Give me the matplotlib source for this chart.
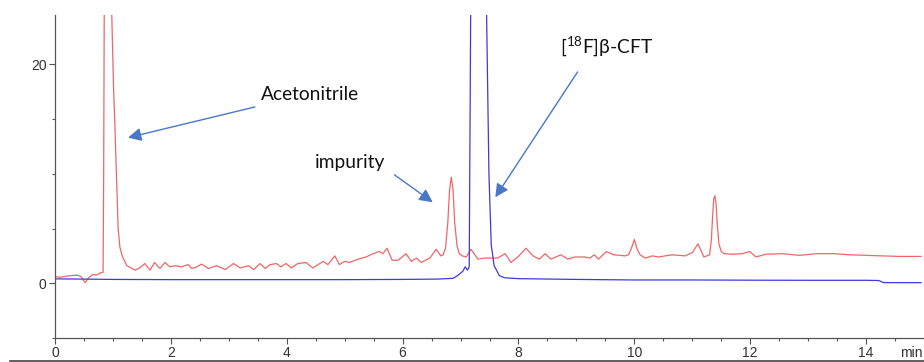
import numpy as np
import matplotlib
matplotlib.use('Agg')
import matplotlib.pyplot as plt
from matplotlib.lines import Line2D
from matplotlib.ticker import MultipleLocator

# ---------- datos leídos del cromatograma ----------
# traza roja
red_t = [0.00, 0.10, 0.20, 0.30, 0.38, 0.45, 0.52, 0.58, 0.65, 0.72, 0.78, 0.83,
         0.84, 0.86, 0.90, 0.95, 0.98, 1.01, 1.03, 1.06, 1.09, 1.12, 1.16, 1.24,
         1.38, 1.46, 1.55, 1.64, 1.72, 1.81, 1.90, 1.98, 2.07, 2.18, 2.30, 2.36,
         2.45, 2.53, 2.65, 2.79, 2.94, 3.08, 3.20, 3.34, 3.43, 3.54, 3.63, 3.71,
         3.82, 3.90, 3.99, 4.08, 4.19, 4.33, 4.45, 4.63, 4.71, 4.83, 4.91, 5.00,
         5.08, 5.23, 5.37, 5.49, 5.60, 5.66, 5.73, 5.82, 5.92, 6.06, 6.15, 6.24,
         6.32, 6.47, 6.58, 6.66, 6.70, 6.74, 6.78, 6.81, 6.84, 6.87, 6.90, 6.94,
         6.98, 7.03, 7.10, 7.18, 7.30, 7.41, 7.52, 7.64, 7.77, 7.87, 7.99, 8.13,
         8.25, 8.36, 8.46, 8.56, 8.73, 8.85, 8.97, 9.14, 9.23, 9.31, 9.38, 9.52,
         9.64, 9.84, 9.90, 9.95, 10.00, 10.05, 10.10, 10.19, 10.31, 10.42, 10.65,
         10.77, 10.88, 11.00, 11.05, 11.10, 11.15, 11.20, 11.25, 11.30, 11.33,
         11.35, 11.37, 11.39, 11.41, 11.43, 11.46, 11.50, 11.55, 11.70, 11.87,
         11.99, 12.10, 12.27, 12.56, 12.85, 13.14, 13.45, 13.71, 14.00, 14.28,
         14.57, 14.95]
red_y = [0.60, 0.55, 0.65, 0.70, 0.75, 0.60, 0.05, 0.50, 0.80, 0.75, 0.95, 1.00,
         10.0, 40.0, 60.0, 40.0, 24.5, 18.0, 15.0, 10.0, 5.0, 3.3, 2.5, 1.6,
         1.2, 1.4, 1.8, 1.2, 1.9, 1.35, 1.9, 1.5, 1.6, 1.5, 1.7, 1.35,
         1.5, 1.75, 1.35, 1.6, 1.25, 1.8, 1.4, 1.6, 1.25, 1.8, 1.35, 1.7,
         1.8, 1.5, 1.8, 1.4, 1.8, 1.9, 1.4, 2.0, 1.7, 2.5, 1.7, 2.0,
         1.9, 2.2, 2.4, 2.7, 2.9, 2.7, 3.2, 2.1, 2.1, 2.7, 2.0, 2.3,
         1.9, 2.3, 3.1, 2.5, 2.6, 3.2, 5.5, 8.5, 9.7, 8.6, 5.5, 3.4,
         2.7, 2.5, 2.4, 3.1, 2.2, 2.3, 2.3, 2.3, 2.7, 1.9, 2.4, 3.2,
         2.5, 2.2, 2.7, 2.2, 2.6, 2.2, 2.4, 2.4, 2.3, 2.6, 2.2, 2.9,
         2.6, 2.5, 2.6, 3.2, 4.0, 3.1, 2.6, 2.3, 2.5, 2.4, 2.6,
         2.55, 2.5, 2.8, 3.2, 3.6, 3.0, 2.4, 2.5, 2.6, 4.0,
         6.0, 7.7, 8.0, 7.3, 5.5, 3.6, 2.9, 2.7, 2.65, 2.7,
         2.9, 2.4, 2.65, 2.7, 2.55, 2.7, 2.7, 2.6, 2.55, 2.5,
         2.45, 2.45]

# traza azul
blue_t = [0.00, 0.50, 1.00, 2.00, 3.00, 4.00, 5.00, 6.00, 6.60, 6.87, 6.95, 7.04,
          7.08, 7.12, 7.15, 7.17, 7.20, 7.30, 7.38, 7.45, 7.49, 7.53, 7.58, 7.67,
          7.76, 8.00, 9.00, 10.00, 11.00, 12.00, 13.00, 14.00, 14.22, 14.30, 14.95]
blue_y = [0.40, 0.38, 0.35, 0.33, 0.33, 0.33, 0.33, 0.35, 0.38, 0.45, 0.70, 1.10,
          1.50, 1.20, 1.50, 20.0, 50.0, 60.0, 40.0, 24.5, 10.0, 3.5, 1.6, 0.70,
          0.50, 0.42, 0.35, 0.30, 0.30, 0.28, 0.27, 0.27, 0.25, 0.06, 0.05]

# anotaciones: texto, posición del texto, cola y punta de la flecha
labels = ['Acetonitrile', 'impurity', r'[$\mathregular{^{18}}$F]β-CFT']
label_xy = [(4.40, 17.2), (5.10, 11.0), (9.52, 21.7)]
arrow_tail = [(3.45, 16.1), (5.86, 9.9), (9.02, 19.3)]
arrow_head = [(1.26, 13.3), (6.52, 7.4), (7.60, 7.85)]

xticks = [0, 2, 4, 6, 8, 10, 12, 14]
yticks = [0, 20]

# ---------- figura ----------
fig = plt.figure(figsize=(9.24, 3.62), dpi=100)
ax = fig.add_axes([55 / 924, 1 - 338 / 362, 1 - 55 / 924, (338 - 15) / 362])

ax.plot(red_t, red_y, color='#f06666', lw=0.9)
ax.plot(blue_t, blue_y, color='#3b3bdd', lw=0.9)

ax.set_xlim(0, 15)
ax.set_ylim(-5, 24.5)
ax.set_xticks(xticks)
ax.set_yticks(yticks)
ax.xaxis.set_minor_locator(MultipleLocator(0.5))
ax.yaxis.set_minor_locator(MultipleLocator(5))

for s in ['top', 'right']:
    ax.spines[s].set_visible(False)
for s in ['left', 'bottom']:
    ax.spines[s].set_color('#555555')
    ax.spines[s].set_linewidth(0.9)

ax.tick_params(which='major', direction='out', length=4, width=0.8,
               color='#555555', labelsize=10, labelcolor='#333333', pad=2)
ax.tick_params(which='minor', direction='out', length=2.5, width=0.8,
               color='#555555')
for lab in ax.get_xticklabels() + ax.get_yticklabels():
    lab.set_family(['Liberation Sans', 'DejaVu Sans'])

# unidad "min" pegada al borde derecho
ax.text(14.97, -0.026, 'min', transform=ax.get_xaxis_transform(),
        ha='right', va='top', fontsize=10, color='#333333',
        family=['Liberation Sans', 'DejaVu Sans'], clip_on=False)

arrow_color = '#4a78c8'
for txt, pos, tail, head in zip(labels, label_xy, arrow_tail, arrow_head):
    ax.text(pos[0], pos[1], txt, ha='center', va='center', fontsize=13.8,
            color='#111111', family=['Lato', 'DejaVu Sans'])
    ax.annotate('', xy=head, xytext=tail,
                arrowprops=dict(arrowstyle='-|>', color=arrow_color, lw=1.0,
                                mutation_scale=20, shrinkA=0, shrinkB=0))

# línea del borde inferior de la captura
fig.add_artist(Line2D([10 / 924, 1], [1.5 / 362, 1.5 / 362],
                      transform=fig.transFigure, color='#444444', lw=1.2))

fig.savefig('out.png', dpi=100)
